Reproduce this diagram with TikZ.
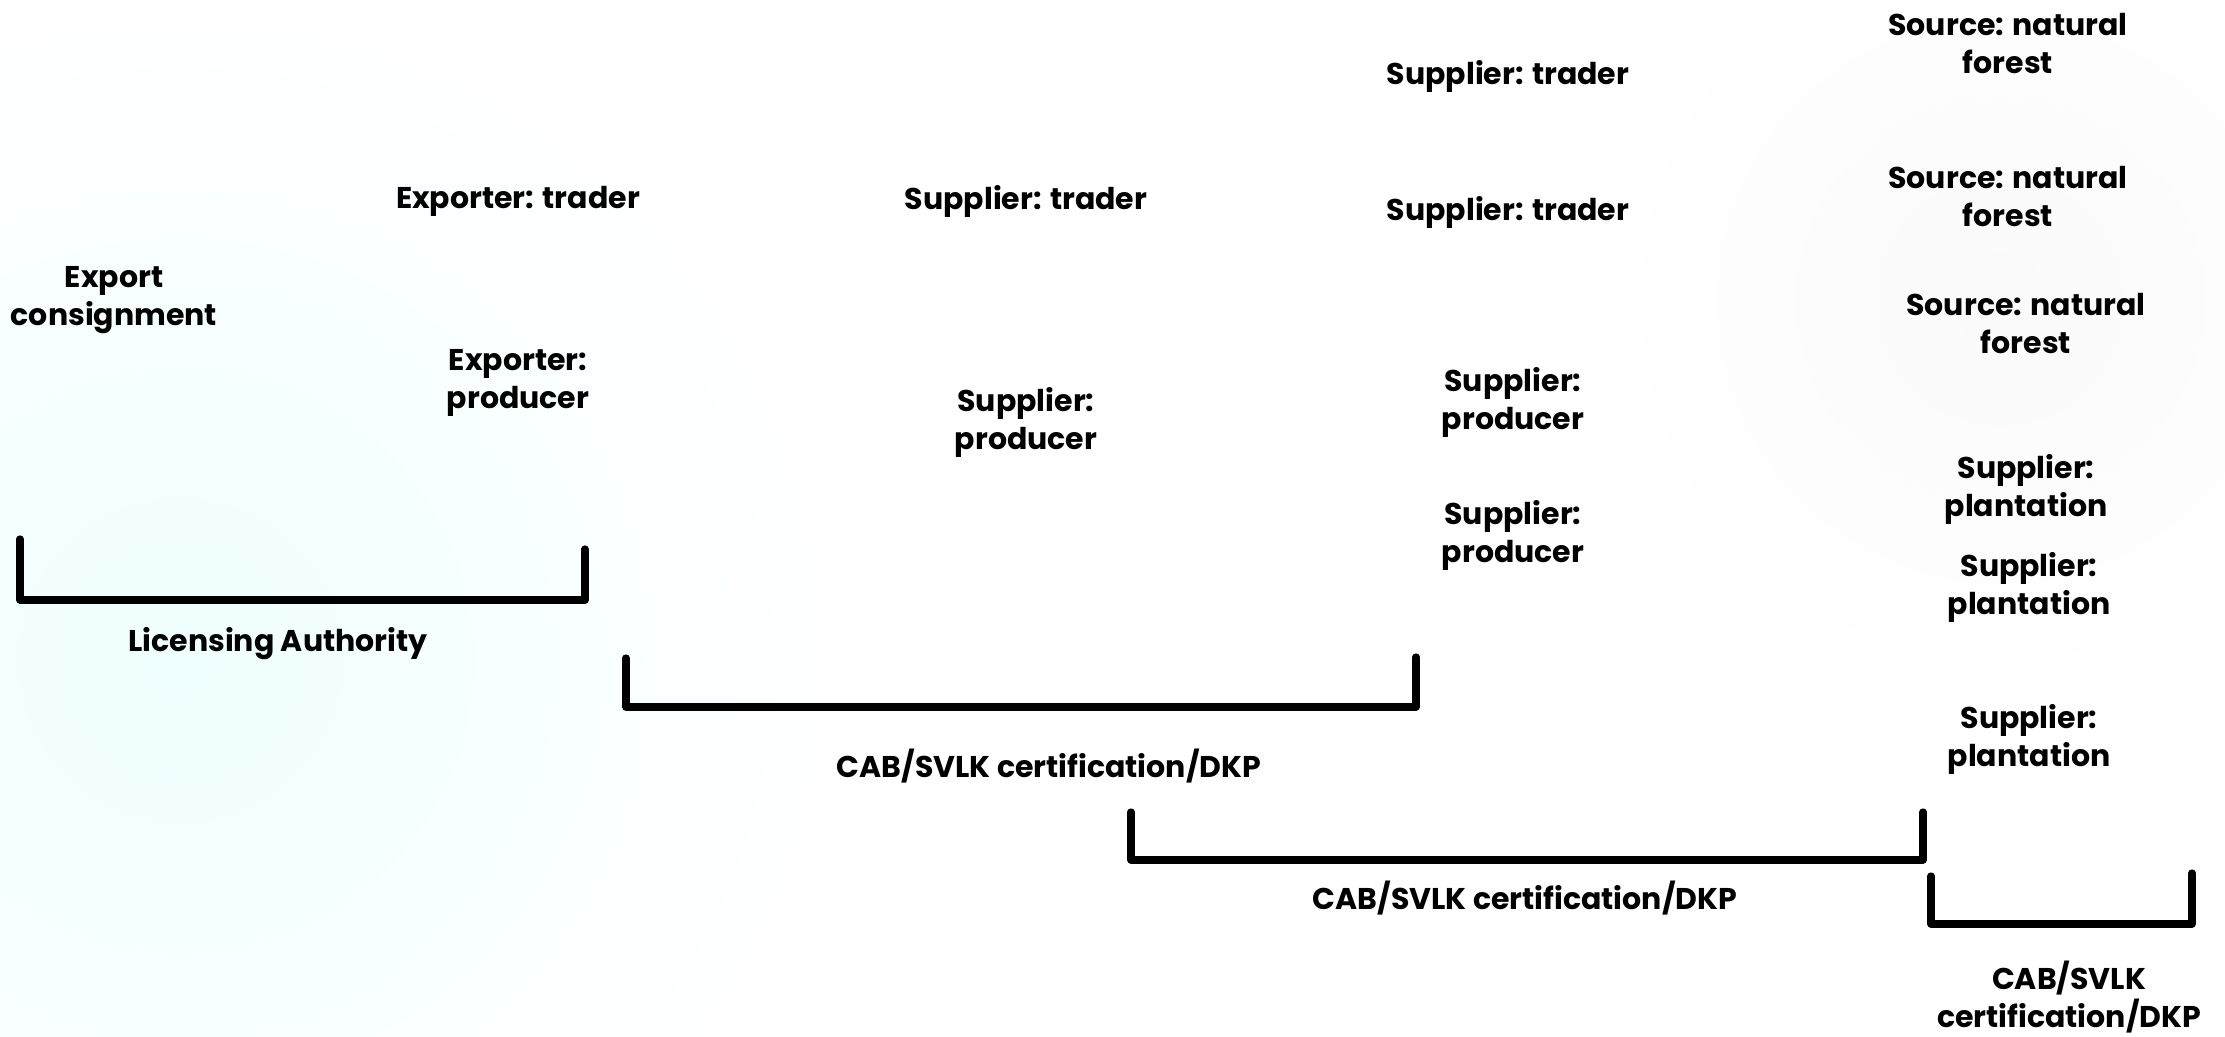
\documentclass[tikz,border=0pt]{standalone}
\usepackage{fontspec}
\setmainfont{Poppins}
\begin{document}
\begin{tikzpicture}[x=0.5pt,y=-0.5pt,
  lbl/.style={align=center,inner sep=0pt,font=\bfseries\fontsize{15}{19}\selectfont,text=black},
  brk/.style={line width=3.6pt,line cap=round,line join=round,black}]
\path[use as bounding box,fill=white] (0,0) rectangle (2225,1037);
\shade[inner color=cyan!6!white,outer color=white] (180,660) circle (330pt);
\shade[inner color=black!2!white,outer color=white] (2000,300) circle (200pt);
% labels
\node[lbl] (ec) at (114,300) {Export\\consignment};
\node[lbl] (et) at (518,201) {Exporter: trader};
\node[lbl] (ep) at (518,383) {Exporter:\\producer};
\node[lbl] (st1) at (1026,201) {Supplier: trader};
\node[lbl] (sp1) at (1026,422) {Supplier:\\producer};
\node[lbl] (st2) at (1508,76) {Supplier: trader};
\node[lbl] (st3) at (1508,212) {Supplier: trader};
\node[lbl] (sp2) at (1513,402) {Supplier:\\producer};
\node[lbl] (sp3) at (1513,535) {Supplier:\\producer};
\node[lbl] (sf1) at (2008,44) {Source: natural\\forest};
\node[lbl] (sf2) at (2008,197) {Source: natural\\forest};
\node[lbl] (sf3) at (2026,324) {Source: natural\\forest};
\node[lbl] (pl1) at (2026,489) {Supplier:\\plantation};
\node[lbl] (pl2) at (2029,587) {Supplier:\\plantation};
\node[lbl] (pl3) at (2029,739) {Supplier:\\plantation};
\node[lbl] (la) at (278,644) {Licensing Authority};
\node[lbl] (cab1) at (1049,766) {CAB/SVLK certification/DKP};
\node[lbl] (cab2) at (1525,898) {CAB/SVLK certification/DKP};
\node[lbl] (cab3) at (2069,997) {CAB/SVLK\\certification/DKP};
% brackets
\coordinate (a1) at (20,539); \coordinate (a2) at (20,600);
\coordinate (a3) at (585,600); \coordinate (a4) at (585,549);
\draw[brk] (a1) -- (a2) -- (a3) -- (a4);
\coordinate (b1) at (626,658); \coordinate (b2) at (626,707);
\coordinate (b3) at (1416,707); \coordinate (b4) at (1416,657);
\draw[brk] (b1) -- (b2) -- (b3) -- (b4);
\coordinate (c1) at (1131,812); \coordinate (c2) at (1131,860);
\coordinate (c3) at (1923,860); \coordinate (c4) at (1923,812);
\draw[brk] (c1) -- (c2) -- (c3) -- (c4);
\coordinate (d1) at (1931,876); \coordinate (d2) at (1931,924);
\coordinate (d3) at (2192,924); \coordinate (d4) at (2192,873);
\draw[brk] (d1) -- (d2) -- (d3) -- (d4);
\end{tikzpicture}
\end{document}
